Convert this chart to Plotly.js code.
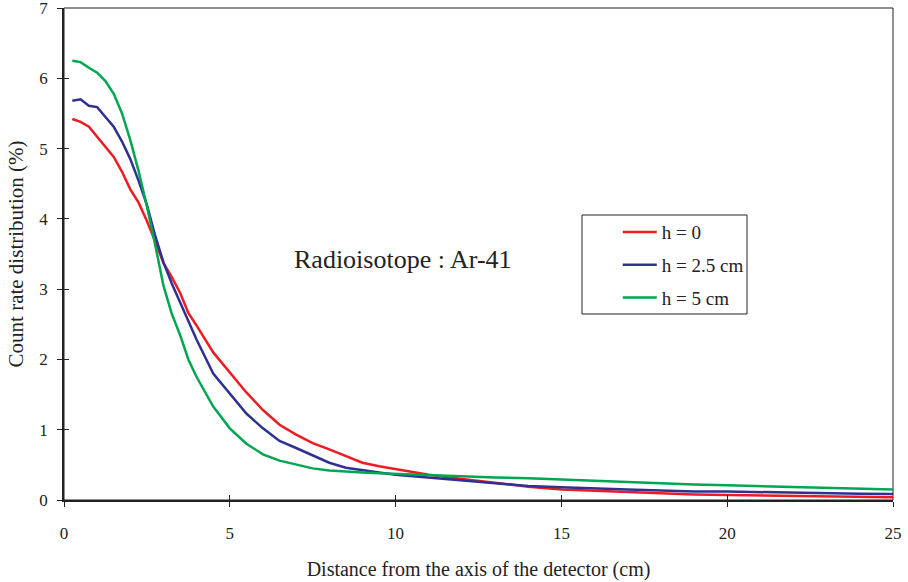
<!DOCTYPE html>
<html>
<head>
<meta charset="utf-8">
<script src="https://cdn.plot.ly/plotly-3.0.1.min.js"></script>
<style>html,body{margin:0;padding:0;background:#fff}#chart{width:908px;height:582px}</style>
</head>
<body>
<div id="chart"></div>
<script>
const distance = [0.25,0.5,0.75,1.0,1.25,1.5,1.75,2.0,2.25,2.5,2.75,3.0,3.25,3.5,3.75,4.0,4.5,5.0,5.5,6.0,6.5,7.0,7.5,8.0,8.5,9.0,9.5,10,10.5,11,12,13,14,15,16,17,18,19,20,21,22,23,24,25];
const h0 = [5.42,5.38,5.31,5.17,5.02,4.88,4.67,4.42,4.23,3.97,3.68,3.37,3.17,2.95,2.66,2.48,2.10,1.82,1.53,1.28,1.07,0.93,0.81,0.72,0.62,0.53,0.48,0.44,0.40,0.36,0.30,0.24,0.19,0.15,0.13,0.11,0.09,0.08,0.07,0.065,0.06,0.05,0.045,0.04];
const h25 = [5.68,5.70,5.61,5.59,5.45,5.31,5.10,4.85,4.54,4.20,3.76,3.38,3.08,2.81,2.54,2.28,1.80,1.52,1.23,1.02,0.84,0.74,0.64,0.53,0.46,0.42,0.39,0.36,0.34,0.32,0.29,0.25,0.20,0.18,0.16,0.15,0.135,0.12,0.12,0.11,0.10,0.095,0.09,0.085];
const h5 = [6.25,6.23,6.15,6.08,5.96,5.78,5.50,5.12,4.68,4.18,3.63,3.05,2.65,2.35,2.00,1.75,1.33,1.02,0.80,0.65,0.56,0.50,0.45,0.42,0.40,0.39,0.38,0.37,0.36,0.35,0.34,0.32,0.31,0.29,0.27,0.26,0.24,0.22,0.21,0.20,0.18,0.17,0.16,0.15];
const seriesNames = ['h = 0','h = 2.5 cm','h = 5 cm'];
const xTicks = [0,5,10,15,20,25];
const yTicks = [0,1,2,3,4,5,6,7];

const colors = ['#ED1C24','#2E3192','#00A651'];
const ys = [h0,h25,h5];
const traces = ys.map((y,i)=>({
  x: distance, y: y, type:'scatter', mode:'lines', name: seriesNames[i],
  legendgroup: 'g'+i,
  line:{color:colors[i], width:2.5}
}));

const font = {family:'"Liberation Serif", "Times New Roman", serif', color:'#222'};
const F = s => Object.assign({size:s}, font);
const layout = {
  width:908, height:582,
  margin:{l:64, r:15, t:8, b:82},
  paper_bgcolor:'#fff', plot_bgcolor:'#fff',
  font: F(17),
  showlegend:true,
  legend:{x:0.668, y:0.583, xanchor:'left', yanchor:'top',
    borderwidth:0, bgcolor:'rgba(0,0,0,0)',
    font:F(19), tracegroupgap:5, itemwidth:34},
  xaxis:{range:[0,25], tickvals:xTicks, ticks:'outside', ticklen:5, tickwidth:1, tickcolor:'#222',
    showline:true, linecolor:'#222', linewidth:2, showgrid:false, zeroline:false,
    tickfont:F(17), ticklabelstandoff:12, ticklabeloverflow:'allow',
    title:{text:'Distance from the axis of the detector (cm)', font:F(20), standoff:20}},
  yaxis:{range:[0,7], tickvals:yTicks, ticks:'outside', ticklen:5, tickwidth:1, tickcolor:'#222',
    showline:true, linecolor:'#222', linewidth:1.5, showgrid:false, zeroline:false,
    tickfont:F(17), ticklabelstandoff:6, ticklabeloverflow:'allow',
    title:{text:'Count rate distribution (%)', font:F(21), standoff:10}},
  xaxis2:{overlaying:'x', range:[0,25], tickvals:xTicks, ticks:'inside', ticklen:5, tickcolor:'#222',
    showticklabels:false, showline:false, showgrid:false, zeroline:false, side:'bottom'},
  yaxis2:{overlaying:'y', range:[0,7], tickvals:yTicks, ticks:'inside', ticklen:5, tickcolor:'#222',
    showticklabels:false, showline:false, showgrid:false, zeroline:false, side:'left'},
  shapes:[
    {type:'rect', xref:'paper', yref:'paper', x0:0, x1:1, y0:0, y1:1,
      line:{color:'#222', width:1}, fillcolor:'rgba(0,0,0,0)', layer:'below'},
    {type:'rect', xref:'paper', yref:'paper', x0:(582-64)/829, x1:(747-64)/829, y0:(500-314)/492, y1:(500-215)/492,
      line:{color:'#222', width:1}, fillcolor:'#fff', layer:'below'}
  ],
  annotations:[{text:'Radioisotope : Ar-41', xref:'paper', yref:'paper', x:0.4095, y:0.488,
    showarrow:false, font:F(26)}]
};
traces.push({x:[0], y:[0], xaxis:'x2', yaxis:'y2', type:'scatter', mode:'markers',
  marker:{opacity:0}, showlegend:false, hoverinfo:'skip'});
Plotly.newPlot('chart', traces, layout, {displayModeBar:false});
</script>
</body>
</html>
